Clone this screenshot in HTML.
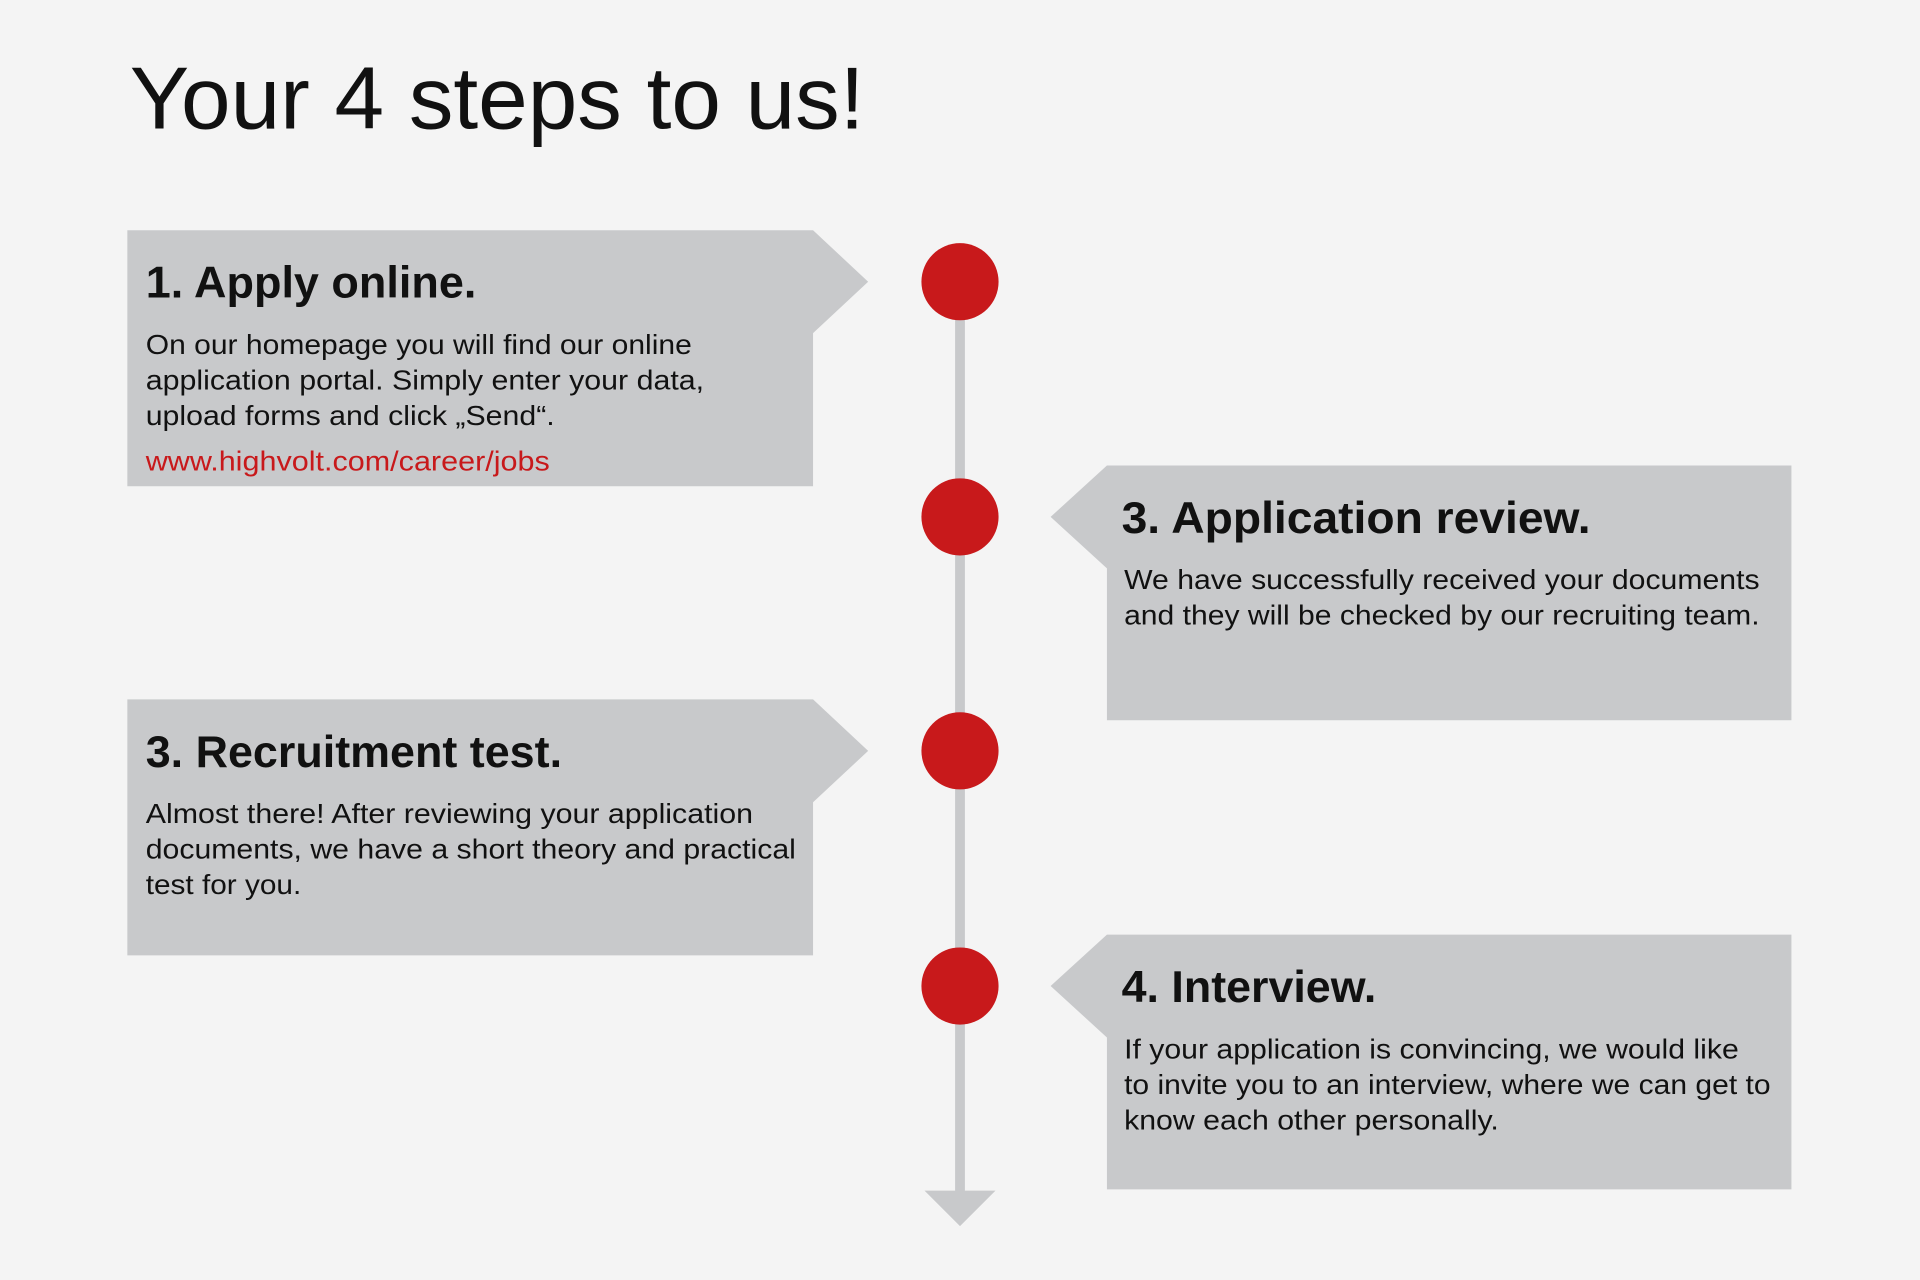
<!DOCTYPE html>
<html><head><meta charset="utf-8"><style>
html,body{margin:0;padding:0;background:#f4f4f4;}
svg{display:block;}
text{font-family:"Liberation Sans",Arial,sans-serif;}
.h{font-weight:bold;font-size:36px;fill:#111;}
.b{font-size:22.5px;fill:#111;}
</style></head><body>
<svg width="1920" height="1280" viewBox="0 0 1568 1045" preserveAspectRatio="none" xmlns="http://www.w3.org/2000/svg">
<rect width="1568" height="1045" fill="#f4f4f4"/>
<text x="106" y="105" font-size="72" fill="#111" textLength="600" lengthAdjust="spacingAndGlyphs">Your 4 steps to us!</text>

<rect x="780" y="230" width="8" height="745" fill="#c8c9cb"/>
<polygon points="755,972 813,972 784,1001" fill="#c8c9cb"/>

<polygon points="104,188 664,188 709,230 664,272 664,397 104,397" fill="#c8c9cb"/>
<text class="h" x="119" y="243" textLength="270" lengthAdjust="spacingAndGlyphs">1. Apply online.</text>
<text class="b" x="119" y="289" textLength="446" lengthAdjust="spacingAndGlyphs">On our homepage you will find our online</text>
<text class="b" x="119" y="318" textLength="456" lengthAdjust="spacingAndGlyphs">application portal. Simply enter your data,</text>
<text class="b" x="119" y="347" textLength="334" lengthAdjust="spacingAndGlyphs">upload forms and click „Send“.</text>
<text class="b" x="119" y="384" fill="#c8191b" style="fill:#c8191b" textLength="330" lengthAdjust="spacingAndGlyphs">www.highvolt.com/career/jobs</text>

<polygon points="904,380 1463,380 1463,588 904,588 904,464 858,422" fill="#c8c9cb"/>
<text class="h" x="916" y="435" textLength="383" lengthAdjust="spacingAndGlyphs">3.  Application review.</text>
<text class="b" x="918" y="481" textLength="519" lengthAdjust="spacingAndGlyphs">We have successfully received your documents</text>
<text class="b" x="918" y="510" textLength="519" lengthAdjust="spacingAndGlyphs">and they will be checked by our recruiting team.</text>

<polygon points="104,571 664,571 709,613 664,655 664,780 104,780" fill="#c8c9cb"/>
<text class="h" x="119" y="626" textLength="340" lengthAdjust="spacingAndGlyphs">3. Recruitment test.</text>
<text class="b" x="119" y="672" textLength="496" lengthAdjust="spacingAndGlyphs">Almost there! After reviewing your application</text>
<text class="b" x="119" y="701" textLength="531" lengthAdjust="spacingAndGlyphs">documents, we have a short theory and practical</text>
<text class="b" x="119" y="730" textLength="127" lengthAdjust="spacingAndGlyphs">test for you.</text>

<polygon points="904,763 1463,763 1463,971 904,971 904,847 858,805" fill="#c8c9cb"/>
<text class="h" x="916" y="818" textLength="208" lengthAdjust="spacingAndGlyphs">4. Interview.</text>
<text class="b" x="918" y="864" textLength="502" lengthAdjust="spacingAndGlyphs">If your application is convincing, we would like</text>
<text class="b" x="918" y="893" textLength="528" lengthAdjust="spacingAndGlyphs">to invite you to an interview, where we can get to</text>
<text class="b" x="918" y="922" textLength="306" lengthAdjust="spacingAndGlyphs">know each other personally.</text>

<circle cx="784" cy="230" r="31.5" fill="#c8191b"/>
<circle cx="784" cy="422" r="31.5" fill="#c8191b"/>
<circle cx="784" cy="613" r="31.5" fill="#c8191b"/>
<circle cx="784" cy="805" r="31.5" fill="#c8191b"/>
</svg>
</body></html>
